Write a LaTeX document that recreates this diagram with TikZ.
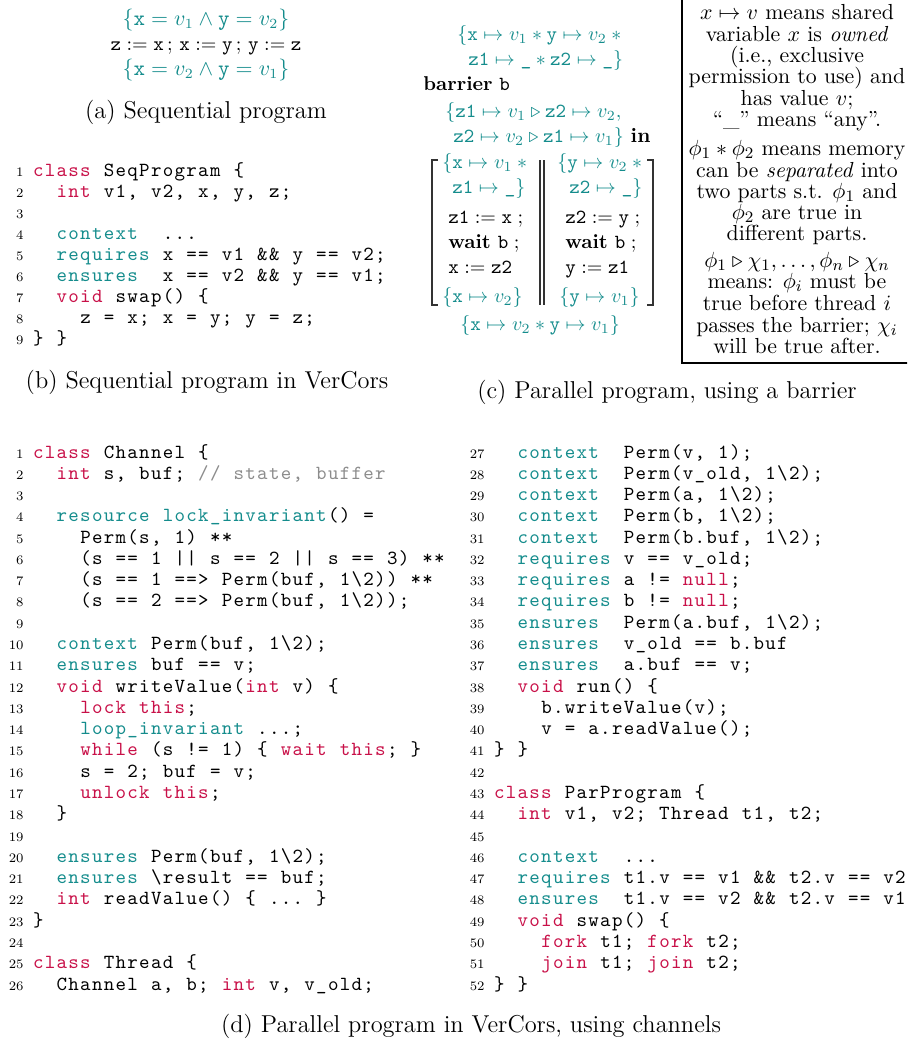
\documentclass[tikz,border=0pt]{standalone}
\usepackage{amsmath,amssymb}
\usepackage{xcolor}
\usepackage{tikz}
\definecolor{spec}{RGB}{20,140,140}
\definecolor{kwred}{RGB}{200,16,72}
\definecolor{cmtgray}{gray}{0.55}
\newcommand{\mt}[1]{\mathtt{#1}}
\newcommand{\codefont}{\fontsize{10}{12}\selectfont\ttfamily}
\newcommand{\asrtfont}{\fontsize{10.3}{12}\selectfont}
\newcommand{\seqfont}{\fontsize{10.7}{13}\selectfont}
\newcommand{\stmtfont}{\fontsize{10.4}{12}\selectfont}

% fixed columns for the listings: every character gets one box of \colw
\newlength{\colw}\setlength{\colw}{5.9pt}
\newcommand{\ckw}{\color{kwred}}
\newcommand{\cann}{\color{spec}}
\newcommand{\ccmt}{\color{cmtgray}}
\newcommand{\cpln}{\color{black}}
\makeatletter
\def\cl@stop{\cl@stop}
\newcommand{\codeline}[1]{\expandafter\cl@loop#1\cl@stop}
\def\cl@loop{\futurelet\cl@tok\cl@check}
\def\cl@check{%
  \ifx\cl@tok\cl@stop\let\cl@do\cl@finish
  \else\ifx\cl@tok\@sptoken\let\cl@do\cl@space
  \else\let\cl@do\cl@char\fi\fi
  \cl@do}
\def\cl@finish\cl@stop{}
\expandafter\def\expandafter\cl@space\space{\hbox to\colw{\hss}\cl@loop}
\def\cl@char#1{%
  \ifx#1\ckw#1\else\ifx#1\cann#1\else\ifx#1\ccmt#1\else\ifx#1\cpln#1\else
  \hbox to\colw{\hss#1\hss}\fi\fi\fi\fi\cl@loop}
\makeatother

\begin{document}
\begin{tikzpicture}[x=0.5pt, y=-0.5pt,
  code/.style={anchor=base west, inner sep=0, font=\codefont},
  lnum/.style={anchor=base east, inner sep=0, font=\fontsize{6.5}{8}\selectfont},
  asrt/.style={anchor=base west, inner sep=0, text=spec, font=\asrtfont},
  stmt/.style={anchor=base west, inner sep=0, font=\stmtfont},
  lgd/.style={anchor=base, inner sep=0, font=\fontsize{10.9}{13}\selectfont},
  capt/.style={anchor=base, inner sep=0, font=\fontsize{12.2}{14}\selectfont},
  brk/.style={line width=0.6pt, black!80}
]
\useasboundingbox (0,0) rectangle (907,1041);
\clip (0,0) rectangle (907,1041);

% (a) sequential program
\node[asrt, anchor=base, font=\seqfont] (a1) at (206,25) {$\{\mt{x} = v_1 \wedge \mt{y} = v_2\}$};
\node[asrt, anchor=base, font=\fontsize{10.2}{12}\selectfont, text=black] (a2) at (206,50) {$\mt{z} := \mt{x} \,;\, \mt{x} := \mt{y} \,;\, \mt{y} := \mt{z}$};
\node[asrt, anchor=base, font=\seqfont] (a3) at (206,75) {$\{\mt{x} = v_2 \wedge \mt{y} = v_1\}$};
\node[capt] (capa) at (206,118) {(a) Sequential program};

% (b) sequential program in VerCors
\foreach \n/\c/\t in {
  1/0/{\ckw class \cpln SeqProgram \{},
  2/2/{\ckw int \cpln v1, v2, x, y, z;},
  3/0/{},
  4/2/{\cann context \cpln ~...},
  5/2/{\cann requires \cpln x == v1 \&\& y == v2;},
  6/2/{\cann ensures \cpln ~x == v2 \&\& y == v1;},
  7/2/{\ckw void \cpln swap() \{},
  8/4/{z = x; x = y; y = z;},
  9/0/{\} \}}}{
  \node[code] (b\n) at ({32+\c*11.8},{176+(\n-1)*21}) {\codeline{\t}};
  \node[lnum] (bn\n) at (24,{176+(\n-1)*21}) {\n};
}
\node[capt] (capb) at (207,388) {(b) Sequential program in VerCors};

% (c) parallel program with a barrier
\node[asrt] (c1) at (457,40) {$\{\mt{x} \mapsto v_1 \ast \mt{y} \mapsto v_2 \ast{}$};
\node[asrt] (c2) at (468,65) {$\mt{z1} \mapsto \texttt{\_} \ast \mt{z2} \mapsto \texttt{\_}\}$};
\node[stmt, font=\fontsize{10}{12}\selectfont] (c3) at (423,90) {\textbf{barrier} \texttt{b}};
\node[asrt] (c4) at (445,117) {$\{\mt{z1} \mapsto v_1 \triangleright \mt{z2} \mapsto v_2,$};
\node[asrt] (c5) at (453,142) {$\mt{z2} \mapsto v_2 \triangleright \mt{z1} \mapsto v_1\}$ \textcolor{black}{\textbf{in}}};

\node[asrt] (m1a) at (442,168) {$\{\mt{x} \mapsto v_1 \ast{}$};
\node[asrt] (m1b) at (452,193) {$\mt{z1} \mapsto \texttt{\_}\}$};
\node[stmt] (m1c) at (448,223) {$\mt{z1} := \mt{x}\;;$};
\node[stmt] (m1d) at (448,248) {$\mathbf{wait}\ \mt{b}\;;$};
\node[stmt] (m1e) at (448,273) {$\mt{x} := \mt{z2}$};
\node[asrt] (m1f) at (442,302) {$\{\mt{x} \mapsto v_2\}$};

\node[asrt] (m2a) at (557,168) {$\{\mt{y} \mapsto v_2 \ast{}$};
\node[asrt] (m2b) at (569,193) {$\mt{z2} \mapsto \texttt{\_}\}$};
\node[stmt] (m2c) at (565,223) {$\mt{z2} := \mt{y}\;;$};
\node[stmt] (m2d) at (565,248) {$\mathbf{wait}\ \mt{b}\;;$};
\node[stmt] (m2e) at (565,273) {$\mt{y} := \mt{z1}$};
\node[asrt] (m2f) at (559,302) {$\{\mt{y} \mapsto v_1\}$};

\draw[brk] (438,160) -- (432,160) -- (432,305) -- (438,305);
\draw[brk] (647,160) -- (653,160) -- (653,305) -- (647,305);
\draw[brk] (540,160) -- (540,305) (544,160) -- (544,305);

\node[asrt] (c6) at (460,330) {$\{\mt{x} \mapsto v_2 \ast \mt{y} \mapsto v_1\}$};
\node[capt] (capc) at (667,398) {(c) Parallel program, using a barrier};

% legend box
\draw[line width=0.6pt] (682,-10) rectangle (912,363);
\foreach \y/\t [count=\i] in {
  19/{$x \mapsto v$ means shared},
  41/{variable $x$ is \emph{owned}},
  62/{(i.e., exclusive},
  83/{permission to use) and},
  105/{has value $v$;},
  126/{``\_'' means ``any''.},
  155/{$\phi_1 \ast \phi_2$ means memory},
  177/{can be \emph{separated} into},
  198/{two parts s.t. $\phi_1$ and},
  219/{$\phi_2$ are true in},
  240/{different parts.},
  267/{$\phi_1 \triangleright \chi_1, \ldots, \phi_n \triangleright \chi_n$},
  288/{means: $\phi_i$ must be},
  310/{true before thread $i$},
  332/{passes the barrier; $\chi_i$},
  353/{will be true after.}}{
  \node[lgd] (lg\i) at (797,\y) {\t};
}

% (d) parallel program in VerCors
\foreach \n/\c/\t in {
  1/0/{\ckw class \cpln Channel \{},
  2/2/{\ckw int \cpln s, buf; \ccmt // state, buffer},
  3/0/{},
  4/2/{\cann resource lock\_invariant\cpln () =},
  5/4/{Perm(s, 1) **},
  6/4/{(s == 1 || s == 2 || s == 3) **},
  7/4/{(s == 1 ==> Perm(buf, 1\textbackslash 2)) **},
  8/4/{(s == 2 ==> Perm(buf, 1\textbackslash 2));},
  9/0/{},
  10/2/{\cann context \cpln Perm(buf, 1\textbackslash 2);},
  11/2/{\cann ensures \cpln buf == v;},
  12/2/{\ckw void \cpln writeValue(\ckw int \cpln v) \{},
  13/4/{\ckw lock this\cpln ;},
  14/4/{\cann loop\_invariant \cpln ...;},
  15/4/{\ckw while \cpln (s != 1) \{ \ckw wait this\cpln ; \}},
  16/4/{s = 2; buf = v;},
  17/4/{\ckw unlock this\cpln ;},
  18/2/{\}},
  19/0/{},
  20/2/{\cann ensures \cpln Perm(buf, 1\textbackslash 2);},
  21/2/{\cann ensures \cpln \textbackslash result == buf;},
  22/2/{\ckw int \cpln readValue() \{ ... \}},
  23/0/{\}},
  24/0/{},
  25/0/{\ckw class \cpln Thread \{},
  26/2/{Channel a, b; \ckw int \cpln v, v\_old;}}{
  \node[code] (d\n) at ({32+\c*11.8},{458+(\n-1)*21.28}) {\codeline{\t}};
  \node[lnum] (dn\n) at (24,{458+(\n-1)*21.28}) {\n};
}
\foreach \n/\c/\t in {
  27/2/{\cann context \cpln ~Perm(v, 1);},
  28/2/{\cann context \cpln ~Perm(v\_old, 1\textbackslash 2);},
  29/2/{\cann context \cpln ~Perm(a, 1\textbackslash 2);},
  30/2/{\cann context \cpln ~Perm(b, 1\textbackslash 2);},
  31/2/{\cann context \cpln ~Perm(b.buf, 1\textbackslash 2);},
  32/2/{\cann requires \cpln v == v\_old;},
  33/2/{\cann requires \cpln a != \ckw null\cpln ;},
  34/2/{\cann requires \cpln b != \ckw null\cpln ;},
  35/2/{\cann ensures \cpln ~Perm(a.buf, 1\textbackslash 2);},
  36/2/{\cann ensures \cpln ~v\_old == b.buf},
  37/2/{\cann ensures \cpln ~a.buf == v;},
  38/2/{\ckw void \cpln run() \{},
  39/4/{b.writeValue(v);},
  40/4/{v = a.readValue();},
  41/0/{\} \}},
  42/0/{},
  43/0/{\ckw class \cpln ParProgram \{},
  44/2/{\ckw int \cpln v1, v2; Thread t1, t2;},
  45/0/{},
  46/2/{\cann context \cpln ~...},
  47/2/{\cann requires \cpln t1.v == v1 \&\& t2.v == v2;},
  48/2/{\cann ensures \cpln ~t1.v == v2 \&\& t2.v == v1;},
  49/2/{\ckw void \cpln swap() \{},
  50/4/{\ckw fork \cpln t1; \ckw fork \cpln t2;},
  51/4/{\ckw join \cpln t1; \ckw join \cpln t2;},
  52/0/{\} \}}}{
  \node[code] (d\n) at ({493+\c*11.8},{458+(\n-27)*21.28}) {\codeline{\t}};
  \node[lnum] (dn\n) at (485,{458+(\n-27)*21.28}) {\n};
}
\node[capt] (capd) at (471,1032) {(d) Parallel program in VerCors, using channels};
\end{tikzpicture}
\end{document}
